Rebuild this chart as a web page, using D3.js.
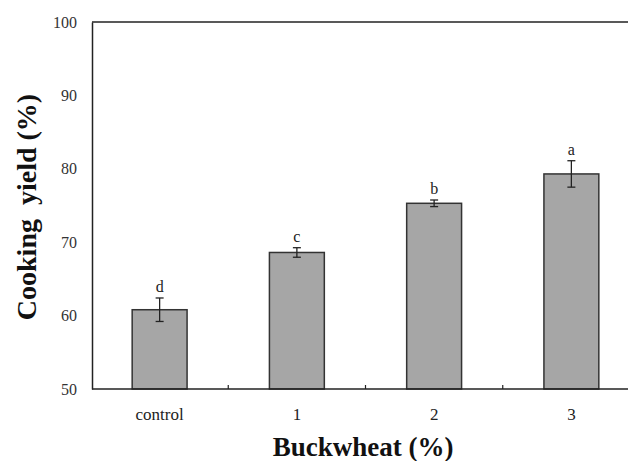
<!DOCTYPE html>
<html>
<head>
<meta charset="utf-8">
<script src="https://cdn.jsdelivr.net/npm/d3@7"></script>
<style>
  html, body { margin: 0; padding: 0; background: #fff; }
  svg { display: block; }
</style>
</head>
<body>
<svg id="chart" width="628" height="461"></svg>
<script>
const categories = ["control", "1", "2", "3"];
const values = [60.8, 68.6, 75.3, 79.3];
const errors = [1.6, 0.65, 0.45, 1.8];
const letters = ["d", "c", "b", "a"];
const yTicks = [50, 60, 70, 80, 90, 100];
const xTitle = "Buckwheat (%)";
const yTitle = "Cooking  yield (%)";

(function () {
const svg = d3.select("#chart");
const mLeft = 92, mTop = 22, mBottom = 389, mRight = 640;

const x = d3.scaleBand().domain(categories).range([91, mRight]).paddingInner(0.6).paddingOuter(0.3);
const y = d3.scaleLinear().domain([50, 100]).range([mBottom, mTop]);

// top frame line
svg.append("line").attr("x1", mLeft).attr("x2", 628).attr("y1", y(100)).attr("y2", y(100))
  .attr("stroke", "#222").attr("stroke-width", 1.5);

// bars
svg.selectAll("rect.bar").data(categories).enter().append("rect")
  .attr("class", "bar")
  .attr("x", d => x(d))
  .attr("width", x.bandwidth())
  .attr("y", (d, i) => y(values[i]))
  .attr("height", (d, i) => y(50) - y(values[i]))
  .attr("fill", "#a6a6a6").attr("stroke", "#333").attr("stroke-width", 1.5);

// error bars
const eb = svg.selectAll("g.err").data(categories).enter().append("g").attr("class", "err")
  .attr("stroke", "#222").attr("stroke-width", 1.3);
eb.append("line")
  .attr("x1", d => x(d) + x.bandwidth() / 2).attr("x2", d => x(d) + x.bandwidth() / 2)
  .attr("y1", (d, i) => y(values[i] + errors[i])).attr("y2", (d, i) => y(values[i] - errors[i]));
eb.append("line")
  .attr("x1", d => x(d) + x.bandwidth() / 2 - 4).attr("x2", d => x(d) + x.bandwidth() / 2 + 4)
  .attr("y1", (d, i) => y(values[i] + errors[i])).attr("y2", (d, i) => y(values[i] + errors[i]));
eb.append("line")
  .attr("x1", d => x(d) + x.bandwidth() / 2 - 4).attr("x2", d => x(d) + x.bandwidth() / 2 + 4)
  .attr("y1", (d, i) => y(values[i] - errors[i])).attr("y2", (d, i) => y(values[i] - errors[i]));

// letters
svg.selectAll("text.letter").data(categories).enter().append("text")
  .attr("class", "letter")
  .attr("x", d => x(d) + x.bandwidth() / 2)
  .attr("y", (d, i) => y(values[i] + errors[i]) - 6)
  .attr("text-anchor", "middle")
  .attr("font-family", "Liberation Serif, serif").attr("font-size", 16).attr("fill", "#222")
  .text((d, i) => letters[i]);

// y axis
const yAxis = svg.append("g").attr("transform", `translate(${mLeft},0)`)
  .call(d3.axisLeft(y).tickValues(yTicks).tickSize(0).tickPadding(15));
yAxis.select(".domain").attr("stroke", "#222").attr("stroke-width", 1.5);
yAxis.selectAll("text").attr("font-family", "Liberation Serif, serif").attr("font-size", 16).attr("fill", "#333");

// x axis
const xAxis = svg.append("g").attr("transform", `translate(0,${mBottom})`)
  .call(d3.axisBottom(x).tickSize(0).tickPadding(19));
xAxis.select(".domain").remove();
xAxis.selectAll("text").attr("font-family", "Liberation Serif, serif").attr("font-size", 17).attr("fill", "#222");
svg.append("line").attr("x1", mLeft).attr("x2", 628).attr("y1", mBottom).attr("y2", mBottom)
  .attr("stroke", "#222").attr("stroke-width", 1.5);
// category separator ticks
svg.selectAll("line.sep").data(categories.slice(1)).enter().append("line")
  .attr("class", "sep")
  .attr("x1", d => x(d) - x.step() * x.paddingInner() / 2).attr("x2", d => x(d) - x.step() * x.paddingInner() / 2)
  .attr("y1", mBottom).attr("y2", mBottom - 4)
  .attr("stroke", "#222").attr("stroke-width", 1.2);

// titles
svg.append("text").attr("x", 363).attr("y", 456).attr("text-anchor", "middle")
  .attr("font-family", "Liberation Serif, serif").attr("font-weight", "bold").attr("font-size", 27)
  .attr("fill", "#111").text(xTitle);
svg.append("text").attr("transform", "translate(36,207) rotate(-90)").attr("text-anchor", "middle")
  .attr("font-family", "Liberation Serif, serif").attr("font-weight", "bold").attr("font-size", 28)
  .attr("fill", "#111").style("white-space", "pre").text(yTitle);
})();
</script>
</body>
</html>
